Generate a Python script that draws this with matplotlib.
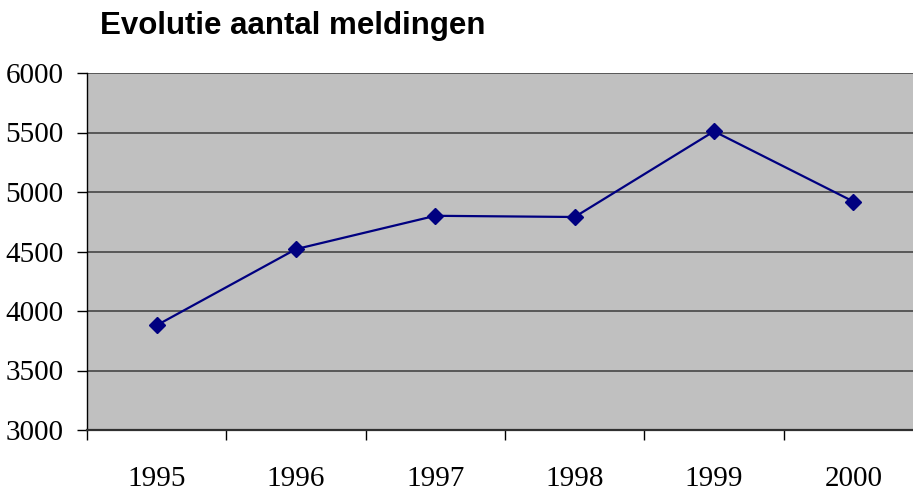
import matplotlib.pyplot as plt
import numpy as np

# Evolutie aantal meldingen 1995-2000
jaren = ["1995", "1996", "1997", "1998", "1999", "2000"]
meldingen = [3880, 4520, 4800, 4790, 5510, 4920]
y_ticks = [3000, 3500, 4000, 4500, 5000, 5500, 6000]

fig = plt.figure(figsize=(9.13, 4.92), dpi=100)
ax = fig.add_axes([87 / 913, 1 - 430 / 492, 836 / 913, 357 / 492])
ax.set_facecolor("#c0c0c0")

x = np.arange(len(jaren))
ax.plot(x, meldingen, color="#000080", linewidth=1.6, marker="D", markersize=8.5,
        markerfacecolor="#000080", markeredgecolor="#000080", clip_on=False, zorder=3)

ax.set_xlim(-0.5, len(jaren) - 0.5)
ax.set_ylim(y_ticks[0], y_ticks[-1])

# y as
ax.set_yticks(y_ticks)
ax.set_yticklabels([str(v) for v in y_ticks], fontfamily="Liberation Serif", fontsize=21)
ax.tick_params(axis="y", direction="out", length=7, width=1, color="black", pad=10)
ax.yaxis.grid(True, color="#505050", linewidth=1.3)
ax.set_axisbelow(True)

# x as: streepjes tussen de jaren, labels in het midden
ax.set_xticks(np.arange(-0.5, len(jaren), 1.0))
ax.set_xticklabels([])
ax.set_xticks(x, minor=True)
ax.set_xticklabels(jaren, minor=True, fontfamily="Liberation Serif", fontsize=21)
ax.tick_params(axis="x", which="major", direction="out", length=7, width=1, color="black")
ax.tick_params(axis="x", which="minor", length=0, pad=26)

for s in ["top", "right"]:
    ax.spines[s].set_visible(False)
ax.spines["left"].set_color("black")
ax.spines["left"].set_linewidth(1)
ax.spines["bottom"].set_color("#303030")
ax.spines["bottom"].set_linewidth(1.6)

fig.text(100 / 913, 1 - 26 / 492, "Evolutie aantal meldingen", fontfamily="Liberation Sans",
         fontweight="bold", fontsize=22.5, ha="left", va="center")

fig.savefig("out.png", dpi=100)
